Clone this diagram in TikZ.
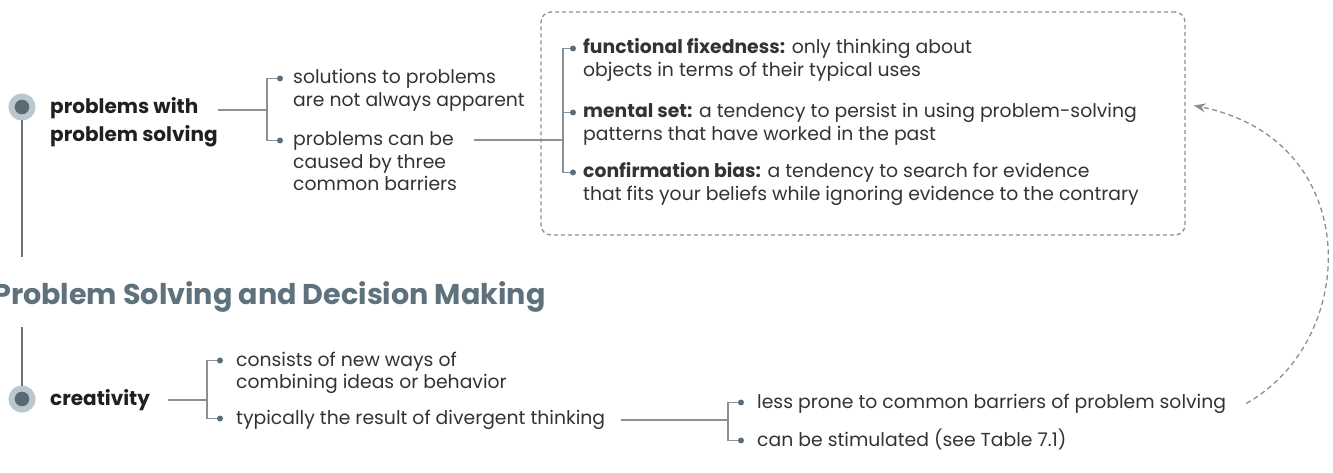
\documentclass[tikz,border=0pt]{standalone}
\usepackage{fontspec}
\setmainfont{Poppins}
\usepackage{tikz}
\usetikzlibrary{arrows.meta, positioning, calc}
\definecolor{lineC}{HTML}{8C9094}
\definecolor{dotC}{HTML}{5B6D79}
\definecolor{txtC}{HTML}{333333}
\definecolor{boldC}{HTML}{231F20}
\definecolor{titleC}{HTML}{5E717C}
\definecolor{ringC}{HTML}{BAC7CE}
\definecolor{hubC}{HTML}{5A6A75}
\definecolor{dashC}{HTML}{8E8E8E}
\newcommand{\itemfont}{\fontsize{18.8}{22.5}\selectfont}
\newcommand{\topicfont}{\fontsize{20}{28}\selectfont\bfseries}
\newcommand{\titlefont}{\fontsize{28.6}{34}\selectfont\bfseries}
\newcommand{\stack}[1]{\begin{tabular}[t]{@{}l@{}}#1\end{tabular}}
\tikzset{
  item/.style    = {anchor=base west, inner sep=0pt, font=\itemfont, text=txtC},
  topic/.style   = {anchor=base west, inner sep=0pt, font=\topicfont, text=boldC},
  bullet/.style  = {circle, fill=dotC, inner sep=0pt, minimum size=6pt},
  hub/.style     = {circle, fill=hubC, draw=ringC, line width=6pt,
                    minimum size=21pt, inner sep=0pt},
  conn/.style    = {draw=lineC, line width=1.2pt},
  stem/.style    = {draw=lineC!80!black, line width=1.5pt},
  barrier/.style = {draw=dashC, line width=1.3pt, dash pattern=on 4pt off 3pt,
                    rounded corners=10pt, minimum width=644pt, minimum height=223pt},
  looparr/.style = {draw=dashC, line width=1.3pt, dash pattern=on 5pt off 3.5pt,
                    -{Stealth[length=12pt, width=9pt]}}
}

\begin{document}
\begin{tikzpicture}[x=1pt, y=-1pt]
  \useasboundingbox (0,0) rectangle (1333,473);

  %% -- title and hubs --------------------------------------------
  \node[anchor=base west, inner sep=0pt, font=\titlefont, text=titleC]
    (title) at (-7,304) {Problem Solving and Decision Making};
  \node[hub] (hubA) at (22,107) {};
  \node[hub] (hubB) at (22,399) {};
  \draw[stem, shorten >=24pt] (hubA) -- (hubA |- title.north);
  \draw[stem, shorten >=15pt] (hubB) -- (hubB |- title.south);

  %% -- problems with problem solving ----------------------------
  \node[topic] (pps) at (50,114) {\stack{problems with\\problem solving}};
  \coordinate (jA) at (267,110);
  \node[item] (sol) at (293,84) {\stack{solutions to problems\\are not always apparent}};
  \node[item] (pcb) at (293,146) {\stack{problems can be\\caused by three\\common barriers}};
  \node[bullet] (solB) at ([shift={(-13pt,5.5pt)}]sol.base west) {};
  \node[bullet] (pcbB) at ([shift={(-13pt,5.5pt)}]pcb.base west) {};
  \draw[conn] (pps.east |- jA) -- (jA);
  \draw[conn] (jA) |- (solB);
  \draw[conn] (jA) |- (pcbB);

  %% -- barriers box ---------------------------------------------
  \node[barrier] (bx) at (863,123.5) {};
  \coordinate (jB) at (563,140);
  \node[item] (ff) at (583,54)
    {\stack{\textbf{functional fixedness:} only thinking about\\objects in terms of their typical uses}};
  \node[item] (ms) at (583,118)
    {\stack{\textbf{mental set:} a tendency to persist in using problem-solving\\patterns that have worked in the past}};
  \node[item] (cb) at (583,178)
    {\stack{\textbf{confirmation bias:} a tendency to search for evidence\\that fits your beliefs while ignoring evidence to the contrary}};
  \node[bullet] (ffB) at ([shift={(-10pt,5.5pt)}]ff.base west) {};
  \node[bullet] (msB) at ([shift={(-10pt,5.5pt)}]ms.base west) {};
  \node[bullet] (cbB) at ([shift={(-10pt,5.5pt)}]cb.base west) {};
  \draw[conn] ([xshift=17pt]pcb.east |- jB) -- (jB);
  \draw[conn] (jB) |- (ffB);
  \draw[conn] (jB) |- (msB);
  \draw[conn] (jB) |- (cbB);

  %% -- creativity -----------------------------------------------
  \node[topic] (cre) at (50,405) {creativity};
  \coordinate (jC) at (207,400);
  \node[item] (cons) at (236,366) {\stack{consists of new ways of\\combining ideas or behavior}};
  \node[item] (typ) at (236,424) {typically the result of divergent thinking};
  \node[bullet] (consB) at ([shift={(-16pt,5.5pt)}]cons.base west) {};
  \node[bullet] (typB) at ([shift={(-16pt,5.5pt)}]typ.base west) {};
  \draw[conn] ([xshift=18pt]cre.east |- jC) -- (jC);
  \draw[conn] (jC) |- (consB);
  \draw[conn] (jC) |- (typB);

  \coordinate (jD) at (728,420);
  \node[item] (lp) at (757,408) {less prone to common barriers of problem solving};
  \node[item] (cs) at (757,446) {can be stimulated (see Table 7.1)};
  \node[bullet] (lpB) at ([shift={(-16pt,5.5pt)}]lp.base west) {};
  \node[bullet] (csB) at ([shift={(-16pt,5.5pt)}]cs.base west) {};
  \draw[conn] ([xshift=16pt]typ.east |- jD) -- (jD);
  \draw[conn] (jD) |- (lpB);
  \draw[conn] (jD) |- (csB);

  %% -- loop back to the barriers --------------------------------
  \coordinate (aS) at ([xshift=20pt]lp.east);
  \coordinate (aE) at ([shift={(8pt,18pt)}]bx.east);
  \draw[looparr] (aS) .. controls (1360,340) and (1365,140) .. (aE);

\end{tikzpicture}
\end{document}
